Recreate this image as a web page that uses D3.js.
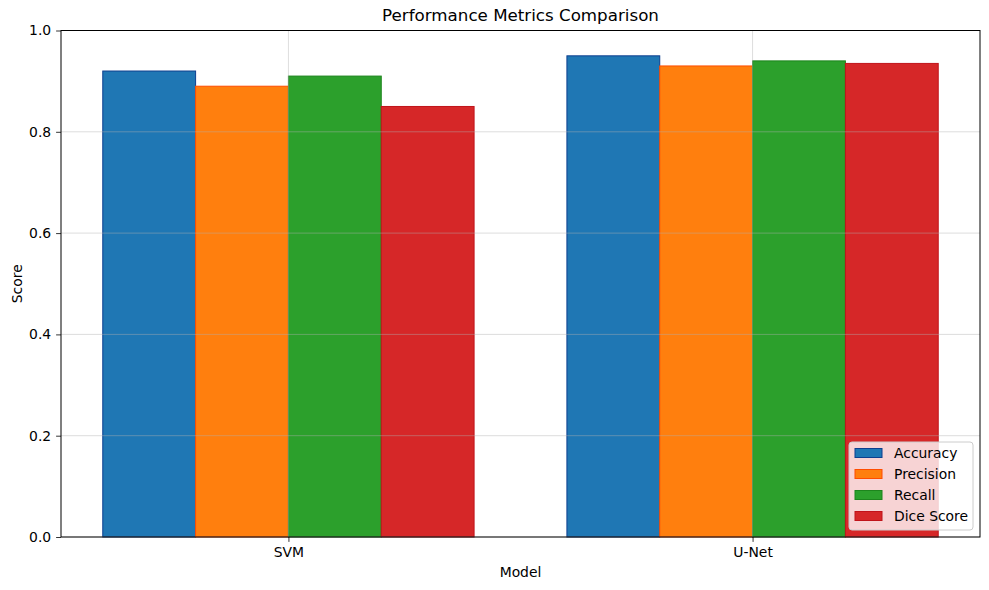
<!DOCTYPE html>
<html>
<head>
<meta charset="utf-8">
<script src="https://cdn.jsdelivr.net/npm/d3@7"></script>
<style>
  html, body { margin: 0; padding: 0; background: #fff; }
  svg { display: block; font-family: "DejaVu Sans", sans-serif; }
</style>
</head>
<body>
<svg id="chart" width="989" height="590"></svg>
<script>
const models = ["SVM", "U-Net"];
const metrics = ["Accuracy", "Precision", "Recall", "Dice Score"];
const accuracy = [0.92, 0.95];
const precision = [0.89, 0.93];
const recall = [0.91, 0.94];
const diceScore = [0.85, 0.935];
const yTicks = [0.0, 0.2, 0.4, 0.6, 0.8, 1.0];
const fillColors = ["#1f77b4", "#ff7f0e", "#2ca02c", "#d62728"];
const edgeColors = ["#0d3f8f", "#ff4d00", "#1d851d", "#c0141a"];

const seriesValues = [accuracy, precision, recall, diceScore];

const W = 989, H = 590;
const L = 61, R = 980, T = 30.5, B = 537;
const barW = 0.2;
const FS = "13.9px";

const svg = d3.select("#chart");

const x = d3.scaleLinear().domain([-0.49, 1.49]).range([L, R]);
const y = d3.scaleLinear().domain([0, 1]).range([B, T]);

// bars
const data = [];
metrics.forEach((m, i) => {
  models.forEach((mod, j) => {
    data.push({ metric: m, i, j, v: seriesValues[i][j] });
  });
});

svg.append("g").selectAll("rect").data(data).enter().append("rect")
  .attr("x", d => x(d.j + (d.i - 1.5) * barW - barW / 2))
  .attr("width", d => x(barW) - x(0))
  .attr("y", d => y(d.v))
  .attr("height", d => y(0) - y(d.v))
  .attr("fill", d => fillColors[d.i])
  .attr("stroke", d => edgeColors[d.i])
  .attr("stroke-width", 1);

// grid (on top)
const grid = svg.append("g").attr("stroke", "#b0b0b0").attr("stroke-opacity", 0.55).attr("stroke-width", 0.8);
grid.selectAll("line.h").data(yTicks).enter().append("line")
  .attr("x1", L).attr("x2", R)
  .attr("y1", d => y(d)).attr("y2", d => y(d));
grid.selectAll("line.v").data(models).enter().append("line")
  .attr("y1", T).attr("y2", B)
  .attr("x1", (d, j) => x(j)).attr("x2", (d, j) => x(j));

// axes
const yAxis = d3.axisLeft(y).tickValues(yTicks).tickFormat(d3.format(".1f")).tickSize(4.9).tickPadding(4.9);
const gy = svg.append("g").attr("transform", `translate(${L},0)`).call(yAxis);
const xAxis = d3.axisBottom(x).tickValues([0, 1]).tickFormat(d => models[d]).tickSize(4.9).tickPadding(4.9);
const gx = svg.append("g").attr("transform", `translate(0,${B})`).call(xAxis);
[gx, gy].forEach(g => {
  g.select(".domain").remove();
  g.selectAll(".tick line").attr("stroke", "#000").attr("stroke-width", 0.8);
  g.selectAll(".tick text").attr("fill", "#000").attr("font-size", FS).attr("font-family", "DejaVu Sans");
});

// spines
svg.append("rect").attr("x", L).attr("y", T).attr("width", R - L).attr("height", B - T)
  .attr("fill", "none").attr("stroke", "#000").attr("stroke-width", 1);

// title and labels
svg.append("text").attr("x", (L + R) / 2).attr("y", 21).attr("text-anchor", "middle")
  .attr("font-size", "16.7px").attr("fill", "#000").text("Performance Metrics Comparison");
svg.append("text").attr("x", (L + R) / 2).attr("y", 577).attr("text-anchor", "middle")
  .attr("font-size", FS).attr("fill", "#000").text("Model");
svg.append("text").attr("transform", `translate(22,${(T + B) / 2}) rotate(-90)`).attr("text-anchor", "middle")
  .attr("font-size", FS).attr("fill", "#000").text("Score");

// legend
const lg = svg.append("g");
lg.append("rect").attr("x", 849).attr("y", 442).attr("width", 124).attr("height", 88)
  .attr("rx", 3).attr("fill", "#fff").attr("fill-opacity", 0.8)
  .attr("stroke", "#cccccc").attr("stroke-width", 1);
metrics.forEach((m, i) => {
  const cy = 453 + i * 21;
  lg.append("rect").attr("x", 855).attr("y", cy - 4.5).attr("width", 27).attr("height", 9)
    .attr("fill", fillColors[i]).attr("stroke", edgeColors[i]).attr("stroke-width", 1);
  lg.append("text").attr("x", 894).attr("y", cy + 5).attr("font-size", FS).attr("fill", "#000").text(m);
});
</script>
</body>
</html>
